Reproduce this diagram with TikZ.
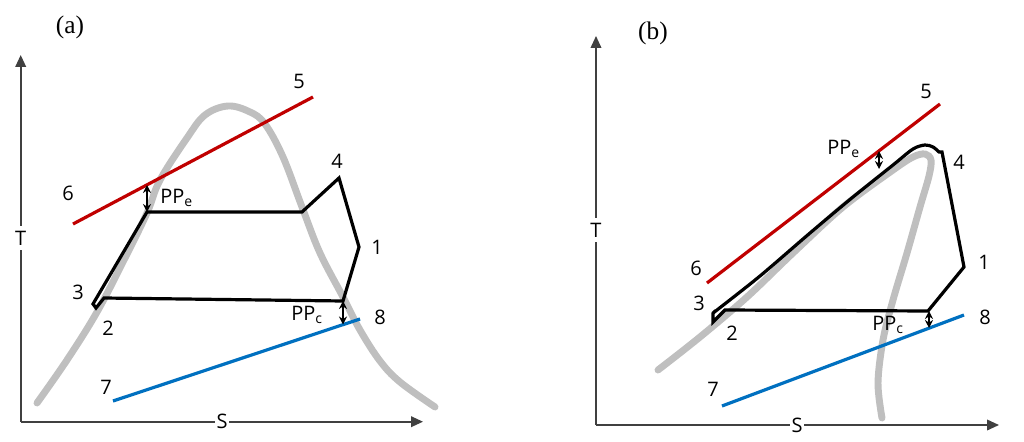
\documentclass[tikz,border=0pt]{standalone}
\usepackage{fontspec}
\setmainfont{Open Sans}
\newfontfamily\panelfont{Liberation Serif}
\usetikzlibrary{arrows.meta}
\definecolor{axisgray}{HTML}{404040}
\definecolor{domegray}{HTML}{BFBFBF}
\definecolor{hotred}{HTML}{C00000}
\definecolor{coldblue}{HTML}{0070C0}
\tikzset{
  axisline/.style={axisgray, line width=1.2pt, -{Triangle[length=9pt,width=8pt]}},
  axislabel/.style={fill=white, inner xsep=1.5pt, inner ysep=3.5pt, font=\fontsize{15}{18}\selectfont},
  dome/.style={domegray, line width=5.2pt, line cap=round},
  cycle/.style={black, line width=2.4pt, line join=miter},
  hotline/.style={hotred, line width=2.4pt},
  coldline/.style={coldblue, line width=2.4pt},
  pparrow/.style={black, line width=1pt, {Stealth[length=6pt,width=6pt]}-{Stealth[length=6pt,width=6pt]}},
  lbl/.style={inner sep=0pt, font=\fontsize{15}{18}\selectfont},
  panel/.style={inner sep=0pt, font=\panelfont\fontsize{19}{21}\selectfont},
}
\begin{document}
\begin{tikzpicture}[x=0.75pt,y=-0.75pt]
\useasboundingbox (0,0) rectangle (1024,442);
% ================= panel (a) =================
\node[panel] (tagA) at (70,27) {(a)};
\coordinate (oA) at (20.7,421.7);
\coordinate (yA) at (20.7,55);
\coordinate (xA) at (423,421.7);
\draw[axisline] (oA) -- (yA);
\draw[axisline] (oA) -- (xA);
\node[axislabel] (TA) at (20.7,238) {T};
\node[axislabel, inner ysep=1pt] (SA) at (222,421.7) {S};
% dome
\draw[dome] plot[smooth, tension=0.6] coordinates {(37,403) (67,360) (97,312) (125,258) (147,213) (160,180) (187,138) (205,115) (228,106) (250,112) (265,124) (283,157) (302,207) (320,253) (343,297) (360,330) (380,361) (400,382) (435,407)};
% heat source / sink
\coordinate (p6A) at (73,224);
\coordinate (p5A) at (313,97);
\coordinate (p7A) at (113,401);
\coordinate (p8A) at (360,319);
\draw[hotline] (p6A) -- (p5A);
\draw[coldline] (p7A) -- (p8A);
% cycle
\coordinate (eA) at (147,212);
\coordinate (vA) at (302,212);
\coordinate (c4A) at (339,178);
\coordinate (c1A) at (359,247);
\coordinate (kA) at (343,301);
\coordinate (lA) at (104,298);
\coordinate (c2A) at (96,308);
\coordinate (c3A) at (93,304);
\draw[cycle] (eA) -- (vA) -- (c4A) -- (c1A) -- (kA) -- (lA) -- (c2A) -- (c3A) -- cycle;
% pinch points
\coordinate (ppeA) at (147,185);
\coordinate (ppcA) at (343,324.5);
\draw[pparrow] (ppeA) -- (eA);
\draw[pparrow] (kA) -- (ppcA);
\node[lbl, anchor=west] (PPeA) at (160,198) {PP\textsubscript{e}};
\node[lbl, anchor=west] (PPcA) at (291,315) {PP\textsubscript{c}};
% labels
\node[lbl] (L5A) at (299,81) {5};
\node[lbl] (L6A) at (68,193) {6};
\node[lbl] (L4A) at (337,161) {4};
\node[lbl] (L1A) at (377,247) {1};
\node[lbl] (L3A) at (78,292) {3};
\node[lbl] (L2A) at (108,328) {2};
\node[lbl] (L8A) at (380,317) {8};
\node[lbl] (L7A) at (106,387) {7};
% ================= panel (b) =================
\node[panel] (tagB) at (653,33) {(b)};
\coordinate (oB) at (596,425);
\coordinate (yB) at (596,36);
\coordinate (xB) at (999,425);
\draw[axisline] (oB) -- (yB);
\draw[axisline] (oB) -- (xB);
\node[axislabel] (TB) at (596,230) {T};
\node[axislabel, inner ysep=1pt] (SB) at (797,425) {S};
% dome
\draw[dome] plot[smooth, tension=0.55] coordinates {(658,370) (700,337) (747,297) (793,253) (843,207) (893,170) (913,157) (925,154) (931,160) (929,176) (920,207) (907,253) (893,300) (883,340) (878,383) (882,418)};
% heat source / sink
\coordinate (p6B) at (707,283);
\coordinate (p5B) at (940,104);
\coordinate (p7B) at (722,406);
\coordinate (p8B) at (964,315);
\draw[hotline] (p6B) -- (p5B);
\draw[coldline] (p7B) -- (p8B);
% cycle
\coordinate (c3B) at (713,313);
\coordinate (c4B) at (942,152);
\coordinate (c1B) at (964,267);
\coordinate (kB) at (928,311);
\coordinate (lB) at (725,310);
\coordinate (c2B) at (713,322);
\draw[cycle] plot[smooth, tension=0.5] coordinates {(c3B) (717,310) (760,276) (810,233) (853,197) (893,165) (913,149) (925,145) (933,147) (939,152)} -- (c4B) -- (c1B) -- (kB) -- (lB) -- (c2B) -- cycle;
% pinch points
\coordinate (ppeB1) at (879,151);
\coordinate (ppeB2) at (879,169);
\coordinate (ppcB) at (929,328);
\coordinate (ppcB0) at (929,311);
\draw[pparrow] (ppeB1) -- (ppeB2);
\draw[pparrow] (ppcB0) -- (ppcB);
\node[lbl, anchor=west] (PPeB) at (827,149) {PP\textsubscript{e}};
\node[lbl, anchor=west] (PPcB) at (872,325) {PP\textsubscript{c}};
% labels
\node[lbl] (L5B) at (926,91) {5};
\node[lbl] (L4B) at (959,162) {4};
\node[lbl] (L1B) at (984,262) {1};
\node[lbl] (L6B) at (696,268) {6};
\node[lbl] (L3B) at (699,303) {3};
\node[lbl] (L2B) at (732,333) {2};
\node[lbl] (L8B) at (985,317) {8};
\node[lbl] (L7B) at (713,389) {7};
\end{tikzpicture}
\end{document}
